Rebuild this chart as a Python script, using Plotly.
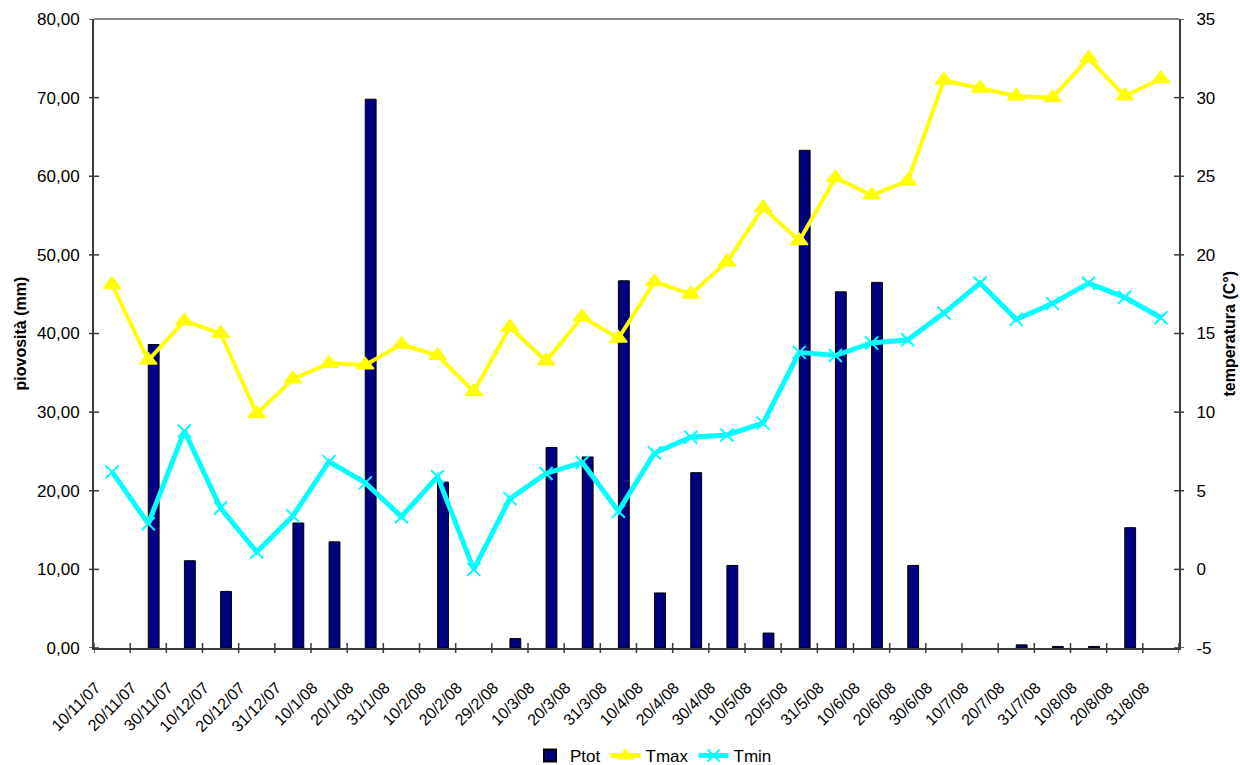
import plotly.graph_objects as go

# Ten-day rainfall and temperature series, Nov 2007 - Aug 2008
dates = ["10/11/07", "20/11/07", "30/11/07", "10/12/07", "20/12/07", "31/12/07",
         "10/1/08", "20/1/08", "31/1/08", "10/2/08", "20/2/08", "29/2/08",
         "10/3/08", "20/3/08", "31/3/08", "10/4/08", "20/4/08", "30/4/08",
         "10/5/08", "20/5/08", "31/5/08", "10/6/08", "20/6/08", "30/6/08",
         "10/7/08", "20/7/08", "31/7/08", "10/8/08", "20/8/08", "31/8/08"]

ptot = [0, 38.6, 11.1, 7.2, 0, 15.9, 13.5, 69.8, 0, 21.1, 0, 1.2,
        25.5, 24.3, 46.7, 7.0, 22.3, 10.5, 1.9, 63.3, 45.3, 46.5, 10.5, 0,
        0, 0.4, 0.2, 0.2, 15.3, 0]

tmax = [18.1, 13.3, 15.8, 15.0, 9.9, 12.1, 13.1, 13.0, 14.3, 13.6, 11.3, 15.4,
        13.25, 16.05, 14.7, 18.3, 17.5, 19.55, 23.0, 20.9, 24.9, 23.8, 24.7, 31.1,
        30.6, 30.1, 30.0, 32.5, 30.1, 31.2]

tmin = [6.2, 2.9, 8.8, 3.9, 1.1, 3.4, 6.85, 5.5, 3.35, 5.9, 0.0, 4.5,
        6.1, 6.8, 3.7, 7.4, 8.4, 8.55, 9.3, 13.8, 13.6, 14.4, 14.6, 16.3,
        18.2, 15.9, 16.9, 18.2, 17.3, 16.0]

rain_ticks = [0, 10, 20, 30, 40, 50, 60, 70, 80]
rain_labels = ["0,00", "10,00", "20,00", "30,00", "40,00", "50,00", "60,00", "70,00", "80,00"]
temp_ticks = [-5, 0, 5, 10, 15, 20, 25, 30, 35]
temp_labels = ["-5", "0", "5", "10", "15", "20", "25", "30", "35"]

FONT = "Liberation Sans, Arial, sans-serif"
W, H = 1240, 765
ML, MR, MT, MB = 94, 61, 19, 117
PW, PH = W - ML - MR, H - MT - MB
AXIS = "#3a3a3a"

pos = list(range(len(dates)))           # category slots on the x scale
rain_drawn = [v if v > 0 else None for v in ptot]   # dry periods: no bar

fig = go.Figure()

fig.add_trace(go.Bar(
    x=pos, y=rain_drawn, name="Ptot", yaxis="y",
    offset=0, width=0.3,
    marker=dict(color="#000080", line=dict(color="#000000", width=1)),
))
fig.add_trace(go.Scatter(
    x=pos, y=tmax, name="Tmax", yaxis="y2", mode="lines+markers",
    line=dict(color="#FFFF00", width=4),
    marker=dict(symbol="triangle-up", size=15, color="#FFFF00",
                line=dict(color="#FFFF00", width=1.5)),
))
fig.add_trace(go.Scatter(
    x=pos, y=tmin, name="Tmin", yaxis="y2", mode="lines+markers",
    line=dict(color="#00FFFF", width=5),
    marker=dict(symbol="x-thin", size=13, color="#00FFFF",
                line=dict(color="#00FFFF", width=2)),
))

# Tick marks that cross the axis lines
shapes = []
tx = 5 / PW
ty = 5 / PH
for k in range(len(dates) + 1):
    shapes.append(dict(type="line", xref="x", yref="y domain",
                       x0=k - 0.5, x1=k - 0.5, y0=-ty, y1=ty,
                       line=dict(color=AXIS, width=1.5)))
for v in rain_ticks:
    shapes.append(dict(type="line", xref="x domain", yref="y",
                       x0=-tx, x1=tx, y0=v, y1=v,
                       line=dict(color=AXIS, width=1.5)))
for v in temp_ticks:
    shapes.append(dict(type="line", xref="x domain", yref="y2",
                       x0=1 - tx, x1=1 + tx, y0=v, y1=v,
                       line=dict(color=AXIS, width=1.5)))
# grey upper border of the plot area
shapes.append(dict(type="line", xref="x domain", yref="y domain",
                   x0=0, x1=1, y0=1, y1=1, line=dict(color="#8c8c8c", width=2)))

# rotated date labels sit slightly left of each slot centre
label_shift = 0.45

fig.update_layout(
    width=W, height=H,
    margin=dict(l=ML, r=MR, t=MT, b=MB, autoexpand=False),
    paper_bgcolor="white", plot_bgcolor="white",
    font=dict(family=FONT, size=17, color="black"),
    showlegend=True,
    legend=dict(orientation="h", xref="container", yref="container",
                x=530 / W, xanchor="left",
                y=(H - 756) / H, yanchor="middle",
                font=dict(size=17), itemsizing="constant",
                tracegroupgap=0, itemwidth=30),
    xaxis=dict(range=[-0.5, len(dates) - 0.5], automargin=False,
               tickmode="array", tickvals=[p - label_shift for p in pos],
               ticktext=dates,
               showline=True, linecolor=AXIS, linewidth=2,
               ticks="", tickangle=-45, showgrid=False, zeroline=False,
               tickfont=dict(size=16), ticklabelstandoff=22),
    yaxis=dict(range=[0, 80], tickvals=rain_ticks, ticktext=rain_labels,
               automargin=False,
               showline=True, linecolor=AXIS, linewidth=2,
               ticks="", showgrid=False, zeroline=False,
               ticklabelstandoff=9),
    yaxis2=dict(range=[-5, 35], tickvals=temp_ticks, ticktext=temp_labels,
                overlaying="y", side="right", automargin=False,
                showline=True, linecolor=AXIS, linewidth=2,
                ticks="", showgrid=False, zeroline=False,
                ticklabelstandoff=12),
    shapes=shapes,
    annotations=[
        dict(text="<b>piovosità (mm)</b>", xref="paper", yref="paper",
             x=-(ML - 20) / PW, y=0.5, textangle=-90, showarrow=False,
             xanchor="center", yanchor="middle", font=dict(size=16)),
        dict(text="<b>temperatura (C°)</b>", xref="paper", yref="paper",
             x=1 + (1229 - (W - MR)) / PW, y=0.5, textangle=-90, showarrow=False,
             xanchor="center", yanchor="middle", font=dict(size=16)),
    ],
)

fig.write_html("out.html")
